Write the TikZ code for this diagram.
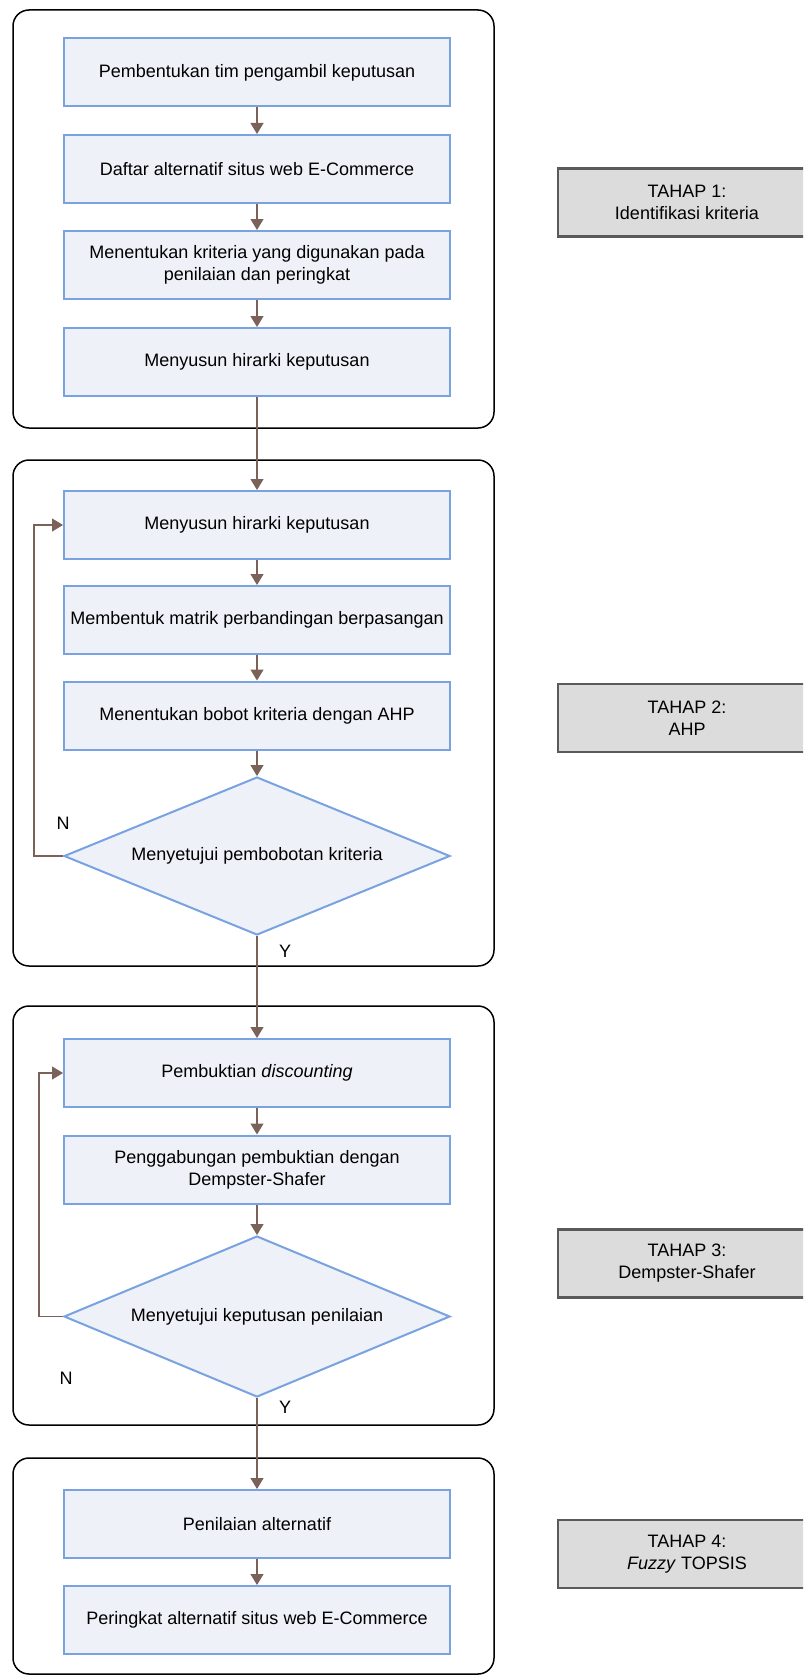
\documentclass[tikz,border=0pt]{standalone}
\usepackage{fontspec}
\setmainfont{Liberation Sans}
\usetikzlibrary{arrows.meta,shapes.geometric}
\definecolor{boxfill}{HTML}{EEF1F7}
\definecolor{boxline}{HTML}{78A2E0}
\definecolor{arrcol}{HTML}{7A6259}
\definecolor{tahapfill}{HTML}{DCDCDC}
\definecolor{tahapline}{HTML}{5A5A5A}
\tikzset{
  procbox/.style={draw=boxline, fill=boxfill, line width=2pt, rectangle,
    minimum width=386pt, minimum height=68pt, inner sep=0pt, align=center,
    font=\fontsize{18}{22}\selectfont},
  decbox/.style={draw=boxline, fill=boxfill, line width=2pt, diamond, aspect=2.44,
    minimum width=386pt, minimum height=158pt, inner sep=0pt, align=center,
    font=\fontsize{18}{22}\selectfont},
  tahapbox/.style={draw=tahapline, fill=tahapfill, line width=2.5pt, rectangle,
    minimum width=258pt, minimum height=68pt, inner sep=0pt, align=center,
    font=\fontsize{18}{22}\selectfont},
  stagebox/.style={draw=black, line width=1.5pt, rounded corners=16pt},
  arr/.style={draw=arrcol, line width=1.2pt, -{Triangle[length=11pt,width=13pt]}},
  lbl/.style={inner sep=0pt, font=\fontsize{18}{22}\selectfont}
}
\begin{document}
\begin{tikzpicture}[x=1pt,y=-1pt]
\clip (0,0) rectangle (803,1675);
\fill[white] (0,0) rectangle (803,1675);

% stage containers
\draw[stagebox] (13,10) rectangle (494,428);
\draw[stagebox] (13,460) rectangle (494,966);
\draw[stagebox] (13,1006) rectangle (494,1425);
\draw[stagebox] (13,1458) rectangle (494,1674);

% stage 1
\node[procbox] (s1a) at (257,72.5) {Pembentukan tim pengambil keputusan};
\node[procbox] (s1b) at (257,169) {Daftar alternatif situs web E-Commerce};
\node[procbox] (s1c) at (257,265) {Menentukan kriteria yang digunakan pada\\penilaian dan peringkat};
\node[procbox] (s1d) at (257,362) {Menyusun hirarki keputusan};

% stage 2
\node[procbox] (s2a) at (257,525) {Menyusun hirarki keputusan};
\node[procbox] (s2b) at (257,620) {Membentuk matrik perbandingan berpasangan};
\node[procbox] (s2c) at (257,715.5) {Menentukan bobot kriteria dengan AHP};
\node[decbox] (s2d) at (257,856) {Menyetujui pembobotan kriteria};

% stage 3
\node[procbox] (s3a) at (257,1073) {Pembuktian \textit{discounting}};
\node[procbox] (s3b) at (257,1169.5) {Penggabungan pembuktian dengan\\Dempster-Shafer};
\node[decbox, minimum height=161pt] (s3d) at (257,1316.5) {Menyetujui keputusan penilaian};

% stage 4
\node[procbox] (s4a) at (257,1524) {Penilaian alternatif};
\node[procbox] (s4b) at (257,1620) {Peringkat alternatif situs web E-Commerce};

% right labels
\node[tahapbox] (t1) at (687,202.5) {TAHAP 1:\\Identifikasi kriteria};
\node[tahapbox] (t2) at (687,718) {TAHAP 2:\\AHP};
\node[tahapbox] (t3) at (687,1263.5) {TAHAP 3:\\Dempster-Shafer};
\node[tahapbox] (t4) at (687,1554) {TAHAP 4:\\\textit{Fuzzy} TOPSIS};

% N / Y labels
\node[lbl] (n1) at (63,823) {N};
\node[lbl] (y1) at (285,951) {Y};
\node[lbl] (n2) at (66,1378) {N};
\node[lbl] (y2) at (285,1407) {Y};

% connectors
\draw[arr] (s1a) -- (s1b);
\draw[arr] (s1b) -- (s1c);
\draw[arr] (s1c) -- (s1d);
\draw[arr] (s1d) -- (s2a);
\draw[arr] (s2a) -- (s2b);
\draw[arr] (s2b) -- (s2c);
\draw[arr] (s2c) -- (s2d);
\draw[arr] (s2d.west) -- ++(-29,0) |- (s2a.west);
\draw[arr] (s2d.south) -- (s3a.north);
\draw[arr] (s3a) -- (s3b);
\draw[arr] (s3b) -- (s3d);
\draw[arr] (s3d.west) -- ++(-24,0) |- (s3a.west);
\draw[arr] (s3d.south) -- (s4a.north);
\draw[arr] (s4a) -- (s4b);
\end{tikzpicture}
\end{document}
